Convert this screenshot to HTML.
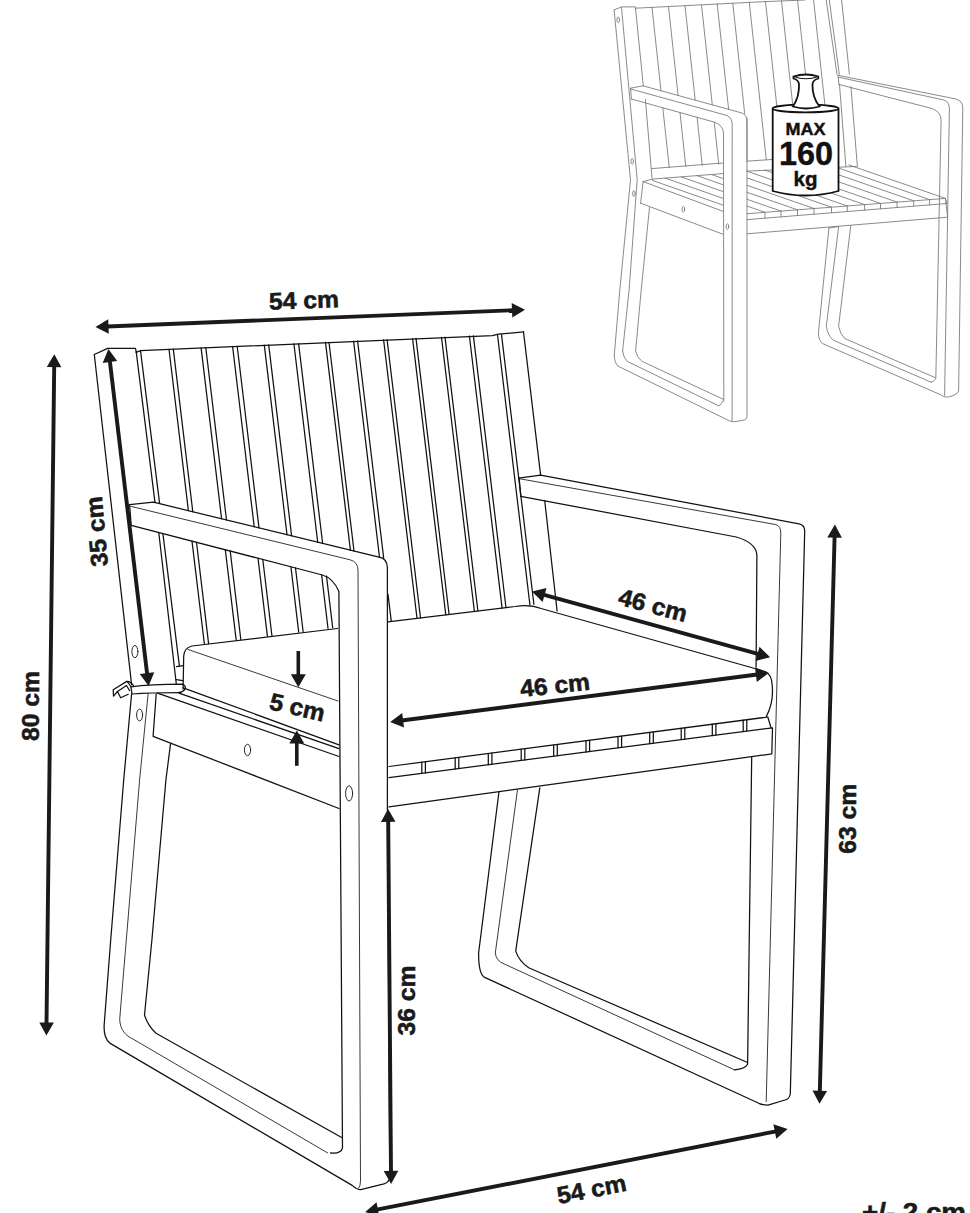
<!DOCTYPE html>
<html><head><meta charset="utf-8"><style>
html,body{margin:0;padding:0;background:#fff;}
body{width:970px;height:1213px;overflow:hidden;}
svg{display:block;}
text{font-family:"Liberation Sans",sans-serif;font-weight:bold;}
</style></head><body>
<svg width="970" height="1213" viewBox="0 0 970 1213">
<g fill="none" stroke="#111" stroke-width="1.25" stroke-linejoin="round" stroke-linecap="round">
<path d="M94.3,354.5 L107.7,348.4 L135.5,348.4 L136.2,351.6"/><path d="M94.3,354.5 L131.6,684.6"/><path d="M131.6,693.8 L123.7,780 L110.7,940 L104.1,1025.8 C103.8,1035 106,1040 109.8,1043.1 L352.2,1185.4 C355,1188 358,1190 360.8,1189.7 L383.9,1183.9 C387,1183 389.5,1181 389.8,1177 L387.4,808 L387.4,567.7 Q386.8,558 379.1,557.1 L153.5,502.2 L129.6,504.6 L131.2,525.3 L322.4,575 Q333,578 338.9,591.4 L342.5,1147.8 Q341,1154 330.5,1152.9"/><path d="M170.6,743.3 L165.9,780 L151.9,940 L144.5,1015 Q148,1026 156,1033.2 L342.1,1137.7"/><path d="M136.2,351.6 L155.0,502.6"/><path d="M140.5,350.6 L159.6,503.3"/><path d="M158.8,532.7 L176.3,684.0"/><path d="M162.9,533.7 L179.4,666.2"/><path d="M176.5,666.6 L183.3,665.6"/><path d="M176.3,679.6 L182.8,680.6"/><path d="M136.2,352.4 L140.5,350.6 L492.4,335.6 L498.3,334.1 L523.5,331.9"/><path d="M523.5,331.9 L540.6,475.1"/><path d="M544.7,500.5 L557.1,611.0"/><path d="M169.0,349.3 L188.4,510.7"/><path d="M192.0,541.1 L204.4,644.2"/><path d="M173.3,349.1 L192.8,511.8"/><path d="M196.5,542.3 L208.6,643.6"/><path d="M201.1,347.9 L221.6,518.8"/><path d="M225.3,549.8 L236.2,640.1"/><path d="M205.8,347.7 L226.5,520.0"/><path d="M230.2,551.0 L240.8,639.5"/><path d="M232.6,346.5 L254.2,526.7"/><path d="M258.0,558.3 L267.4,636.1"/><path d="M237.2,346.3 L259.0,527.9"/><path d="M262.8,559.5 L271.9,635.5"/><path d="M264.3,345.1 L287.0,534.7"/><path d="M290.9,566.8 L298.7,632.1"/><path d="M268.7,344.9 L291.6,535.8"/><path d="M295.5,568.0 L303.1,631.5"/><path d="M293.9,343.8 L317.7,542.2"/><path d="M321.6,574.8 L328.0,628.3"/><path d="M298.6,343.6 L322.6,543.3"/><path d="M326.5,576.1 L332.7,627.8"/><path d="M325.5,342.4 L350.4,550.1"/><path d="M329.0,342.3 L354.0,551.0"/><path d="M353.6,341.2 L379.5,557.2"/><path d="M357.6,341.0 L383.7,558.2"/><path d="M388.0,594.3 L391.3,621.4"/><path d="M383.6,339.8 L417.0,618.3"/><path d="M387.1,339.7 L420.5,617.9"/><path d="M412.6,338.6 L445.8,614.9"/><path d="M416.0,338.4 L449.1,614.5"/><path d="M441.5,337.3 L474.4,611.5"/><path d="M445.0,337.1 L477.9,611.0"/><path d="M469.4,336.0 L502.1,608.1"/><path d="M473.4,335.9 L506.0,607.7"/><path d="M497.5,334.8 L529.9,604.8"/><path d="M501.5,334.6 L533.9,604.3"/><path d="M518.8,478.1 L540.6,475.1 L799,523.8 Q804.7,525 804.7,531 L790.3,1094 Q789.5,1099 785,1100 L768,1105.2 Q763,1105 758.8,1103.3 L484.1,977.1 Q478.5,973 478.6,953 L499,791.5"/><path d="M519.1,477.6 L520.8,496.3"/><path d="M520.8,496.3 L736.3,537 Q756.9,543 756.9,556 L756.1,667"/><path d="M751.7,756.6 L747.6,1064.3 Q745,1069 734.6,1069.9"/><path d="M539.8,787.8 L515.7,951.1 Q519,961 528.7,967.8 L747.6,1062.5"/><path d="M183.1,689 L183.7,656 Q184,648 192,646 L337.5,628.5"/><path d="M183.1,687.8 L339,744.8"/><path d="M388,621.8 L515,606.5 Q530,604 541,608.5 L762,670.5 Q770,672 771.5,680 Q775,700 766.4,716.4"/><path d="M389,766.5 L767.8,717 L771,727.8"/><path d="M389,777.6 L772.5,727.8 L771.8,753.9 L389,806.9"/><path d="M421.8,762.2 L421.8,773.3"/><path d="M425.4,761.7 L425.4,772.9"/><path d="M455.2,757.8 L455.2,769.0"/><path d="M458.8,757.4 L458.8,768.5"/><path d="M488.3,753.5 L488.3,764.7"/><path d="M491.9,753.0 L491.9,764.2"/><path d="M521.2,749.2 L521.2,760.4"/><path d="M524.8,748.8 L524.8,760.0"/><path d="M553.7,745.0 L553.7,756.2"/><path d="M557.3,744.5 L557.3,755.7"/><path d="M586.0,740.8 L586.0,752.0"/><path d="M589.6,740.3 L589.6,751.5"/><path d="M618.0,736.6 L618.0,747.8"/><path d="M621.6,736.1 L621.6,747.4"/><path d="M649.7,732.4 L649.7,743.7"/><path d="M653.3,732.0 L653.3,743.2"/><path d="M681.2,728.3 L681.2,739.6"/><path d="M684.8,727.8 L684.8,739.2"/><path d="M712.3,724.2 L712.3,735.6"/><path d="M715.9,723.8 L715.9,735.1"/><path d="M743.2,720.2 L743.2,731.6"/><path d="M746.8,719.7 L746.8,731.1"/><path d="M157.5,693.2 L339,756.5"/><path d="M179,693.2 L339,748.7"/><path d="M156.2,694 L153.1,736.3 L339,808.5"/><path d="M130.9,686.8 Q150,684.5 182.5,684.2 Q187,686 184.5,690 Q182,692.5 178,692.5 Q150,692.5 132,694 Z"/><path d="M130.9,686.8 Q129,683.5 126.8,681.4 L113.2,689.8 L113.5,696.2 L117.5,691.5 L120.6,697.8 L128.3,694.3 M117.5,691.5 L126.5,685.5 L129.5,690.5 M126.8,681.4 Q130,681 133.5,685.6"/>
<ellipse cx="134.9" cy="651.6" rx="3" ry="6.1" stroke-width="0.9"/><ellipse cx="139.6" cy="715" rx="3" ry="5.9" stroke-width="0.9"/><ellipse cx="247.5" cy="750" rx="3.1" ry="5.7" stroke-width="0.9"/><ellipse cx="349.1" cy="793.4" rx="3.5" ry="7.6" stroke-width="0.9"/>
</g>
<g fill="none" stroke="#222" stroke-width="0.9" stroke-linejoin="round" stroke-linecap="round">
<path d="M148.1,693.8 L139.6,780 L126.3,940 L119.7,1019.2 C120,1030 126,1036 132.9,1039 L327.6,1152.9"/><path d="M131.1,506.4 L350.1,559.8 Q358,562 358,570.3 L360.5,1181 Q360.5,1186 358.7,1188.2"/><path d="M518.8,478.6 L775.9,524.6 Q780.8,526 780.8,533 L766.2,1101.5"/><path d="M517.5,789.7 L495.3,953 Q496,961 504.5,964.1 L734.6,1069.9"/><path d="M188,649.5 L338,701"/>
</g>
<g fill="none" stroke="#7d7d7d" stroke-width="0.9" stroke-linejoin="round" stroke-linecap="round"><path d="M614.1,9.9 L621.5,6.9 L635.5,6.9 L635.5,8.2"/><path d="M614.1,9.9 L630.5,180.0 L619.8,290.0 L614.3,355.0"/><path d="M614.3,355 Q614.5,363 618,366.1 L729.3,420.8 Q732,422 735,421.7 L745.1,419.9 Q747,418 747,416.2 L747,118"/><path d="M621.5,7.4 L637.2,179.6 L629.1,290.0 L622.6,351.2"/><path d="M622.6,351.2 Q623.5,358 627.3,361.4 L719.1,406 Q721.5,404 722.8,401.3"/><path d="M649.5,207.6 L641.2,290 L635.6,351.2 Q637.5,358 642.1,361.4 L723.8,399.5"/><path d="M635.5,8.2 L643.3,85.8"/><path d="M645.4,99.5 L652.0,178.0"/><path d="M635.5,8.2 L765.0,1.6 L805.0,0.0"/><path d="M630.6,88.2 L643,85.8 L741.9,113 Q746.9,115 746.9,121 L747,160"/><path d="M630.6,89 L727,115.5 Q732,118 732.2,124 L732.1,420.8"/><path d="M631.4,99 L713.9,122 Q723,125 723.5,133 L723.8,401.3"/><path d="M630.6,88.2 L631.4,99.0"/><path d="M652.0,7.4 L661.0,90.8"/><path d="M662.8,107.8 L669.3,167.7"/><path d="M668.5,6.5 L678.1,95.5"/><path d="M680.0,112.5 L685.8,166.5"/><path d="M685.0,5.7 L695.2,100.2"/><path d="M697.1,117.3 L702.2,165.4"/><path d="M701.5,4.8 L712.3,104.9"/><path d="M714.2,122.1 L718.7,164.2"/><path d="M717.2,4.0 L728.6,109.3"/><path d="M732.8,3.2 L744.7,113.8"/><path d="M749.3,2.4 L766.3,159.9"/><path d="M765.5,1.5 L782.6,159.6"/><path d="M781.5,0.7 L798.6,159.3"/><path d="M797.5,-0.1 L814.7,158.9"/><path d="M813.5,-0.9 L830.7,158.6"/><path d="M651.8,168.6 L722.9,163.0"/><path d="M652.4,179.1 L722.9,173.6"/><path d="M643.1,181.6 L722.9,211.3 M640.6,203.2 L722.9,234.2 M643.1,181.6 L640.6,203.2 M643.1,181.6 L652.4,179.1"/><path d="M711.8,174.6 L722.9,178.5"/><path d="M697.2,175.7 L722.9,184.7"/><path d="M681.2,176.9 L722.9,191.5"/><path d="M665.2,178.1 L722.9,198.3"/><path d="M652.4,180.4 L722.9,205.1"/><path d="M746.4,161.2 L838.0,155.0"/><path d="M746.4,171.1 L856.0,166.5"/><path d="M747.0,206.1 L765.0,212.3"/><path d="M747.0,199.3 L781.0,211.1"/><path d="M747.0,192.3 L797.5,209.8"/><path d="M747.0,185.3 L814.0,208.5"/><path d="M747.0,177.9 L831.5,207.2"/><path d="M747.0,171.2 L847.3,206.0"/><path d="M764.7,170.0 L864.6,204.6"/><path d="M781.3,169.0 L880.5,203.4"/><path d="M798.5,167.9 L897.1,202.1"/><path d="M815.8,166.9 L913.7,200.8"/><path d="M832.4,165.9 L929.6,199.6"/><path d="M848.8,164.9 L945.4,198.4"/><path d="M765.0,212.3 L765.0,218.1"/><path d="M781.0,211.1 L781.0,216.9"/><path d="M797.5,209.8 L797.5,215.5"/><path d="M814.0,208.5 L814.0,214.2"/><path d="M831.5,207.2 L831.5,212.8"/><path d="M847.3,206.0 L847.3,211.5"/><path d="M864.6,204.6 L864.6,210.1"/><path d="M880.5,203.4 L880.5,208.8"/><path d="M897.1,202.1 L897.1,207.5"/><path d="M913.7,200.8 L913.7,206.1"/><path d="M929.6,199.6 L929.6,204.9"/><path d="M747.1,213.7 L945.4,198.4 L946.9,203.5"/><path d="M747.1,219.6 L946.9,203.5"/><path d="M747.1,233.8 L947.6,217.2"/><path d="M945.4,198.4 L947.6,217.2"/><path d="M838.7,226.6 L828.9,228.0"/><path d="M826.2,0.0 L837.0,74.2"/><path d="M829.3,0.0 L839.3,74.2"/><path d="M841.6,0.0 L849.4,74.2"/><path d="M839.5,84.8 L845.9,166.7"/><path d="M850.9,86.6 L857.4,166.7"/><path d="M838,75.3 L956,99 Q962.8,101 962.8,108 L958.6,391 Q957,395 952,396 L947.2,397.2 Q943,397 940.2,394.5 L822.8,343.7 Q818.4,340 818.4,333.2 L828.9,228"/><path d="M838.0,75.3 L839.0,84.5"/><path d="M839,77.3 L944,100 Q949.4,102 949.4,109 L944.6,395.4"/><path d="M839,84.5 L932,108.5 Q941.1,112 941.1,120 L935.8,378.8 Q934,381 931.4,382.3"/><path d="M838.6,227.2 L826.3,326.2 Q828,336 833.3,340.2 L931.4,382.3"/><path d="M850.8,225.4 L838.6,326.2 Q840,334 844.7,338.5 L935.8,377.9"/><ellipse cx="618.2" cy="19.8" rx="1.3" ry="2.8"/><ellipse cx="632.2" cy="161.4" rx="1.3" ry="2.8"/><ellipse cx="633.9" cy="193.6" rx="1.3" ry="2.8"/><ellipse cx="683.4" cy="209.3" rx="1.3" ry="2.8"/><ellipse cx="727.4" cy="226.6" rx="1.3" ry="2.8"/></g>
<g stroke="#111" stroke-width="1.8" fill="#fff">
<path d="M772.7,108.5 L772.7,191 Q805.6,200 838.5,191 L838.5,108.5"/>
<ellipse cx="805.6" cy="108.5" rx="32.9" ry="3.8"/>
<path d="M793.5,76.5 Q805.9,72.5 818.3,76.5 L818.3,78.5 Q813,80 812.5,84 Q812,97 819.5,106.5 Q806,110.5 792.9,106.5 Q799.5,97 799,84 Q798.5,80 793.5,78.5 Z"/>
<path d="M793.5,76.5 Q805.9,81 818.3,76.5" fill="none" stroke-width="1.2"/>
</g>
<g font-family="Liberation Sans, sans-serif" font-weight="bold" fill="#111" stroke="#111" stroke-width="0.45" text-anchor="middle">
<text x="805.6" y="135" font-size="17" textLength="40" lengthAdjust="spacingAndGlyphs">MAX</text>
<text x="806" y="164.5" font-size="33" textLength="54" lengthAdjust="spacingAndGlyphs">160</text>
<text x="805.6" y="185.5" font-size="21" textLength="24" lengthAdjust="spacingAndGlyphs">kg</text>
</g>
<line x1="107.2" y1="326.5" x2="513.3" y2="310.2" stroke="#1a1a1a" stroke-width="3.9"/><polygon points="525.0,309.7 512.3,317.5 511.7,302.9" fill="#1a1a1a"/><polygon points="95.5,327.0 108.8,333.8 108.2,319.2" fill="#1a1a1a"/><line x1="109.8" y1="360.7" x2="147.2" y2="674.4" stroke="#1a1a1a" stroke-width="3.9"/><polygon points="148.6,686.0 139.8,674.0 154.3,672.2" fill="#1a1a1a"/><polygon points="108.4,349.1 102.7,362.9 117.2,361.1" fill="#1a1a1a"/><line x1="54.2" y1="365.9" x2="46.5" y2="1023.8" stroke="#1a1a1a" stroke-width="3.9"/><polygon points="46.4,1035.5 39.3,1022.4 53.9,1022.6" fill="#1a1a1a"/><polygon points="54.3,354.2 46.8,367.1 61.4,367.3" fill="#1a1a1a"/><line x1="298.3" y1="651.0" x2="298.3" y2="675.6" stroke="#1a1a1a" stroke-width="3.6"/><polygon points="298.3,687.3 290.8,674.3 305.8,674.3" fill="#1a1a1a"/><line x1="296.8" y1="765.8" x2="296.8" y2="742.3" stroke="#1a1a1a" stroke-width="3.6"/><polygon points="296.8,730.6 304.3,743.6 289.3,743.6" fill="#1a1a1a"/><line x1="543.3" y1="594.6" x2="758.8" y2="654.2" stroke="#1a1a1a" stroke-width="3.9"/><polygon points="770.1,657.3 755.6,660.9 759.5,646.8" fill="#1a1a1a"/><polygon points="532.0,591.5 542.6,602.0 546.5,587.9" fill="#1a1a1a"/><line x1="401.8" y1="720.5" x2="757.2" y2="674.5" stroke="#1a1a1a" stroke-width="3.9"/><polygon points="768.8,673.0 756.8,681.9 755.0,667.4" fill="#1a1a1a"/><polygon points="390.2,722.0 404.0,727.6 402.2,713.1" fill="#1a1a1a"/><line x1="834.6" y1="536.3" x2="819.8" y2="1092.1" stroke="#1a1a1a" stroke-width="3.9"/><polygon points="819.5,1103.8 812.5,1090.6 827.1,1091.0" fill="#1a1a1a"/><polygon points="834.9,524.6 827.3,537.4 841.9,537.8" fill="#1a1a1a"/><line x1="388.2" y1="820.6" x2="391.0" y2="1172.2" stroke="#1a1a1a" stroke-width="3.9"/><polygon points="391.1,1183.9 383.7,1171.0 398.3,1170.8" fill="#1a1a1a"/><polygon points="388.1,808.9 380.9,822.0 395.5,821.8" fill="#1a1a1a"/><line x1="376.7" y1="1209.7" x2="776.1" y2="1131.3" stroke="#1a1a1a" stroke-width="3.9"/><polygon points="787.6,1129.0 776.3,1138.7 773.4,1124.3" fill="#1a1a1a"/><polygon points="365.2,1212.0 379.4,1216.7 376.5,1202.3" fill="#1a1a1a"/>
<g font-family="Liberation Sans, sans-serif" font-weight="bold" fill="#1a1a1a" stroke="#1a1a1a" stroke-width="0.55">
<text x="304" y="300" transform="rotate(-2 304 300)" font-size="24" text-anchor="middle" dominant-baseline="central" textLength="70" lengthAdjust="spacingAndGlyphs">54 cm</text><text x="96.4" y="531.5" transform="rotate(-95 96.4 531.5)" font-size="24" text-anchor="middle" dominant-baseline="central" textLength="70" lengthAdjust="spacingAndGlyphs">35 cm</text><text x="30.5" y="706" transform="rotate(-90 30.5 706)" font-size="24" text-anchor="middle" dominant-baseline="central" textLength="70" lengthAdjust="spacingAndGlyphs">80 cm</text><text x="297.5" y="707" transform="rotate(13 297.5 707)" font-size="24" text-anchor="middle" dominant-baseline="central" textLength="56" lengthAdjust="spacingAndGlyphs">5 cm</text><text x="653" y="605" transform="rotate(15 653 605)" font-size="24" text-anchor="middle" dominant-baseline="central" textLength="70" lengthAdjust="spacingAndGlyphs">46 cm</text><text x="555" y="685" transform="rotate(-6 555 685)" font-size="24" text-anchor="middle" dominant-baseline="central" textLength="70" lengthAdjust="spacingAndGlyphs">46 cm</text><text x="847.8" y="818.7" transform="rotate(-90 847.8 818.7)" font-size="24" text-anchor="middle" dominant-baseline="central" textLength="70" lengthAdjust="spacingAndGlyphs">63 cm</text><text x="406.4" y="1000.5" transform="rotate(-90 406.4 1000.5)" font-size="24" text-anchor="middle" dominant-baseline="central" textLength="70" lengthAdjust="spacingAndGlyphs">36 cm</text><text x="591.5" y="1189" transform="rotate(-11 591.5 1189)" font-size="24" text-anchor="middle" dominant-baseline="central" textLength="70" lengthAdjust="spacingAndGlyphs">54 cm</text><text x="914" y="1211.5" transform="rotate(0 914 1211.5)" font-size="26" text-anchor="middle" dominant-baseline="central" textLength="104" lengthAdjust="spacingAndGlyphs">+/- 2 cm</text>
</g>
</svg>
</body></html>
